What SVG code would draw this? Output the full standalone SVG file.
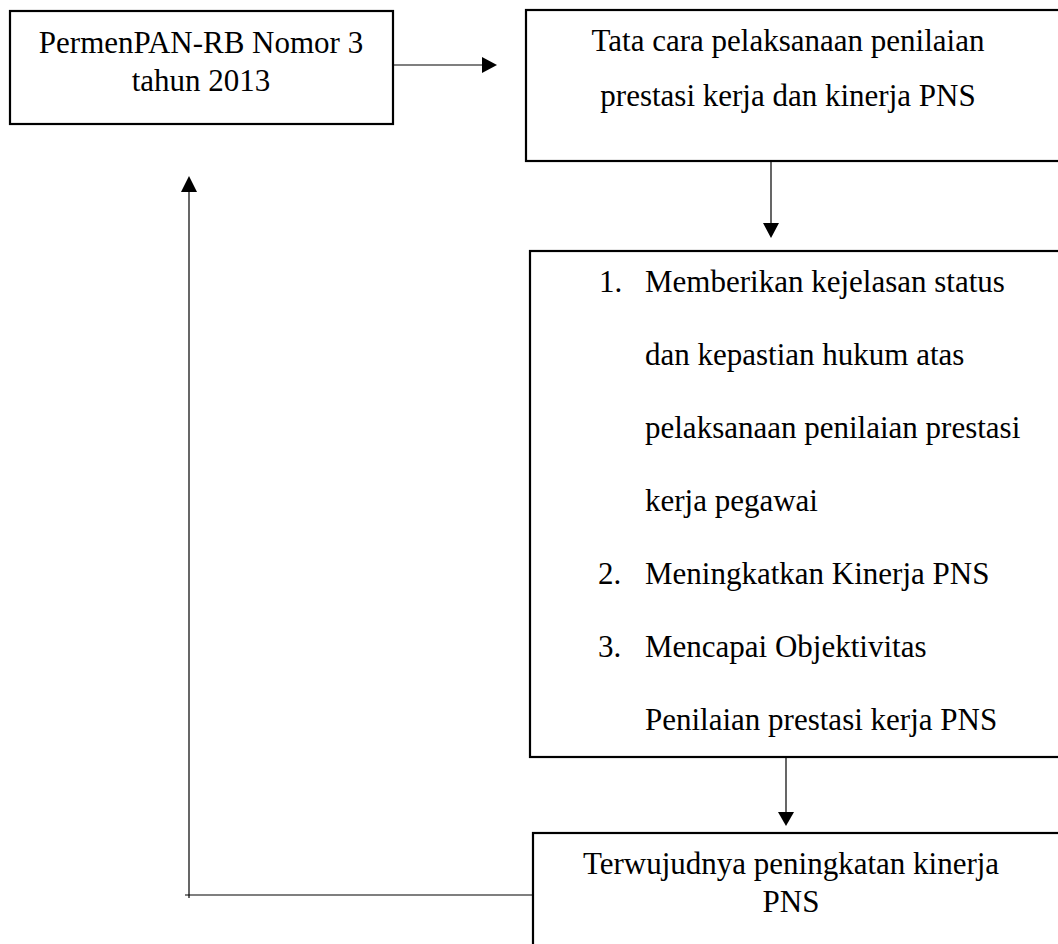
<svg xmlns="http://www.w3.org/2000/svg" width="1058" height="944" viewBox="0 0 1058 944">
<style>
.box{fill:#fff;stroke:#000;stroke-width:2.2}
.t{font-family:"Liberation Serif","Times New Roman",serif;font-size:31px;fill:#000}
.c{text-anchor:middle}
.con{stroke:#000;stroke-width:1.2;fill:none}
.ah{fill:#000}
</style>
<rect width="1058" height="944" fill="#fff"/>
<g id="node-permen">
<rect class="box" x="10" y="11" width="383" height="113"/>
<text class="t c" x="201" y="53">PermenPAN-RB Nomor 3</text>
<text class="t c" x="201" y="91">tahun 2013</text>
</g>
<g id="node-tatacara">
<rect class="box" x="526" y="10" width="540" height="151"/>
<text class="t c" x="788" y="51">Tata cara pelaksanaan penilaian</text>
<text class="t c" x="788" y="106">prestasi kerja dan kinerja PNS</text>
</g>
<g id="node-tujuan">
<rect class="box" x="530" y="251" width="540" height="506"/>
<text class="t" x="599" y="292">1.</text>
<text class="t" x="645" y="292">Memberikan kejelasan status</text>
<text class="t" x="645" y="365">dan kepastian hukum atas</text>
<text class="t" x="645" y="438">pelaksanaan penilaian prestasi</text>
<text class="t" x="645" y="511">kerja pegawai</text>
<text class="t" x="598" y="584">2.</text>
<text class="t" x="645" y="584">Meningkatkan Kinerja PNS</text>
<text class="t" x="598" y="657">3.</text>
<text class="t" x="645" y="657">Mencapai Objektivitas</text>
<text class="t" x="645" y="730">Penilaian prestasi kerja PNS</text>
</g>
<g id="node-hasil">
<rect class="box" x="533" y="833" width="540" height="130"/>
<text class="t c" x="791" y="874">Terwujudnya peningkatan kinerja</text>
<text class="t c" x="791" y="912">PNS</text>
</g>
<g id="connectors">
<line class="con" x1="393" y1="65" x2="483" y2="65"/>
<polygon class="ah" points="482,57 497,65 482,73"/>
<line class="con" x1="771" y1="161" x2="771" y2="224"/>
<polygon class="ah" points="763,223 779,223 771,238"/>
<line class="con" x1="786" y1="757" x2="786" y2="813"/>
<polygon class="ah" points="778,812 794,812 786,826"/>
<polyline class="con" points="533,895 185,895"/>
<line class="con" x1="189" y1="898" x2="189" y2="192"/>
<polygon class="ah" points="181,192 197,192 189,176"/>
</g>
</svg>
